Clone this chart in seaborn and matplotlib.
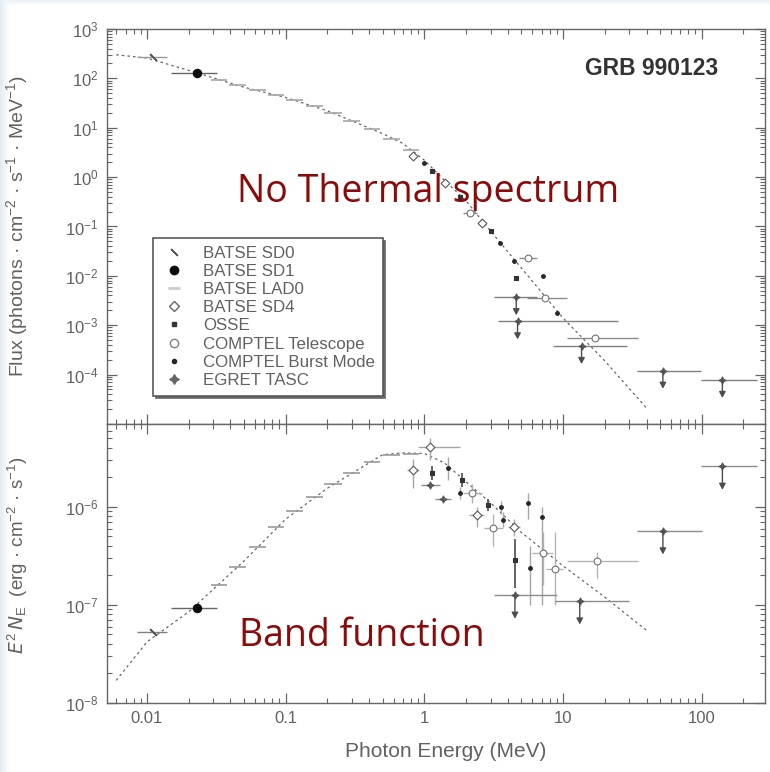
import numpy as np
import matplotlib
matplotlib.use("Agg")
import matplotlib.pyplot as plt
import seaborn as sns
from matplotlib.ticker import LogLocator, FixedLocator, NullFormatter
from matplotlib.lines import Line2D

# ---------------- data ----------------
model_E     = [0.006, 0.01, 0.02, 0.05, 0.1, 0.2, 0.5, 0.7, 1.0, 1.4, 2.0, 3.0, 5.0, 10.0, 20.0, 40.0]
model_flux  = [300, 257, 145, 66, 41, 22, 7.6, 4.8, 2.2, 0.85, 0.33, 0.081, 0.0145, 0.0014, 1.9e-4, 2.1e-5]
model_nuFnu = [1.7e-8, 4.2e-8, 8.5e-8, 2.8e-7, 7.5e-7, 1.55e-6, 3.4e-6, 3.55e-6, 3.5e-6, 2.8e-6, 1.8e-6,
               1.1e-6, 5.5e-7, 2.5e-7, 1.2e-7, 5.5e-8]

# BATSE SD0
sd0_E, sd0_Elo, sd0_Ehi = [0.011], [0.0085], [0.014]
sd0_flux, sd0_nuFnu = [270], [5.3e-8]
# BATSE SD1
sd1_E, sd1_Elo, sd1_Ehi = [0.023], [0.0150], [0.032]
sd1_flux, sd1_nuFnu = [126], [9.3e-8]
# BATSE LAD0
lad_E   = [0.033, 0.045, 0.062, 0.085, 0.115, 0.16, 0.22, 0.3, 0.42, 0.58, 0.8]
lad_Elo = [0.029, 0.039, 0.054, 0.074, 0.100, 0.139, 0.19, 0.26, 0.365, 0.50, 0.70]
lad_Ehi = [0.038, 0.052, 0.072, 0.098, 0.133, 0.185, 0.255, 0.345, 0.48, 0.67, 0.92]
lad_flux  = [93, 72, 57, 47, 37, 27.5, 20, 13.8, 9.3, 6.0, 3.6]
lad_nuFnu = [1.6e-7, 2.45e-7, 3.9e-7, 6.3e-7, 9.1e-7, 1.26e-6, 1.7e-6, 2.2e-6, 2.9e-6, 3.4e-6, 3.5e-6]
# BATSE SD4
sd4u_E, sd4u_flux = [0.83, 1.4, 2.6], [2.7, 0.77, 0.115]
sd4l_E     = [0.83, 1.1, 2.4, 4.4]
sd4l_Elo   = [0.75, 0.9, 2.1, 4.0]
sd4l_Ehi   = [0.92, 1.8, 2.7, 4.9]
sd4l_nuFnu = [2.35e-6, 4.1e-6, 8.3e-7, 6.3e-7]
sd4l_lo    = [1.55e-6, 3.0e-6, 6.2e-7, 5.0e-7]
sd4l_hi    = [3.1e-6, 5.0e-6, 1.0e-6, 7.5e-7]
# OSSE
osseu_E, osseu_flux = [1.13, 1.8, 3.0, 4.6], [1.35, 0.39, 0.082, 0.0091]
ossel_E     = [1.13, 1.88, 2.9, 4.5]
ossel_nuFnu = [2.2e-6, 1.9e-6, 1.05e-6, 2.9e-7]
ossel_lo    = [1.9e-6, 1.6e-6, 9.0e-7, 1.5e-7]
ossel_hi    = [2.6e-6, 2.2e-6, 1.2e-6, 4.7e-7]
# COMPTEL Telescope
ctelu_E    = [2.14, 5.6, 7.4, 17.0]
ctelu_Elo  = [1.9, 4.8, 5.5, 10.6]
ctelu_Ehi  = [2.4, 6.5, 10.6, 35.0]
ctelu_flux = [0.19, 0.023, 0.0035, 5.5e-4]
ctell_E     = [2.2, 3.15, 7.2, 8.7, 17.5]
ctell_Elo   = [1.9, 2.7, 6.0, 7.5, 10.6]
ctell_Ehi   = [2.6, 3.7, 8.5, 10.0, 34.8]
ctell_nuFnu = [1.4e-6, 6.1e-7, 3.4e-7, 2.3e-7, 2.8e-7]
ctell_lo    = [1.1e-6, 4.0e-7, 1.6e-7, 1.0e-7, 1.9e-7]
ctell_hi    = [1.7e-6, 8.5e-7, 5.5e-7, 5.5e-7, 3.5e-7]
# COMPTEL Burst Mode
cbmu_E, cbmu_flux = [1.0, 3.5, 4.4, 7.2, 9.0], [1.9, 0.047, 0.02, 0.01, 0.0018]
cbml_E     = [1.47, 1.8, 3.6, 3.7, 5.6, 7.1, 5.8]
cbml_nuFnu = [2.5e-6, 1.4e-6, 1.0e-6, 7.4e-7, 1.1e-6, 7.9e-7, 2.4e-7]
cbml_lo    = [1.9e-6, 1.2e-6, 8.5e-7, 6.2e-7, 7.5e-7, 1.0e-7, 1.0e-7]
cbml_hi    = [3.2e-6, 1.6e-6, 1.15e-6, 8.8e-7, 1.4e-6, 1.0e-6, 4.0e-7]
# EGRET TASC (upper limits)
tascu_E    = [4.6, 4.7, 13.6, 52.5, 141.0]
tascu_Elo  = [3.2, 3.4, 8.5, 34.0, 99.5]
tascu_Ehi  = [6.5, 25.0, 29.0, 99.0, 250.0]
tascu_flux = [0.0037, 0.0012, 3.8e-4, 1.2e-4, 7.8e-5]
tascl_E     = [1.1, 1.36, 4.5, 13.2, 52.5, 141.0]
tascl_Elo   = [0.95, 1.2, 3.2, 8.7, 34.0, 99.6]
tascl_Ehi   = [1.3, 1.55, 9.1, 30.0, 99.7, 250.0]
tascl_nuFnu = [1.67e-6, 1.2e-6, 1.26e-7, 1.1e-7, 5.7e-7, 2.6e-6]
tascl_ul    = [False, False, True, True, True, True]

legend_labels = ["BATSE SD0", "BATSE SD1", "BATSE LAD0", "BATSE SD4", "OSSE",
                 "COMPTEL Telescope", "COMPTEL Burst Mode", "EGRET TASC"]
x_ticks = [0.01, 0.1, 1, 10, 100]
x_tick_labels = ["0.01", "0.1", "1", "10", "100"]
upper_yticks = [1e-4, 1e-3, 1e-2, 1e-1, 1e0, 1e1, 1e2, 1e3]
lower_yticks = [1e-8, 1e-7, 1e-6]

# ---------------- style ----------------
sns.set_theme(style="ticks")
plt.rcParams['font.family'] = ['Liberation Sans', 'DejaVu Sans']
plt.rcParams['mathtext.default'] = 'regular'

GRAY = '0.4'
TXT = '0.38'
fig = plt.figure(figsize=(7.7, 7.72), dpi=100)
fig.patch.set_facecolor('white')

# faint bluish edge strips of the scan
bg = fig.add_axes([0, 0, 1, 1], zorder=-10)
H, W = 772, 770
img = np.ones((H, W, 3))
xs = np.arange(W)[None, :]
ys = np.arange(H)[:, None]
a = np.clip(1 - xs / 9.0, 0, 1) * 0.9
b = np.clip(1 - ys / 5.0, 0, 1) * 0.6
alpha = np.maximum(a, b)
edge_col = np.array([0.88, 0.92, 0.95])
img = img * (1 - alpha[..., None]) + edge_col * alpha[..., None]
bg.imshow(img, aspect='auto', extent=[0, 1, 0, 1])
bg.axis('off')

ax1 = fig.add_axes([0.139, 0.4508, 0.8545, 0.5117])
ax2 = fig.add_axes([0.139, 0.0894, 0.8545, 0.3614], sharex=ax1)

for ax in (ax1, ax2):
    ax.set_xscale('log')
    ax.set_yscale('log')


def xerr_of(E, lo, hi):
    return [[e - l for e, l in zip(E, lo)], [h - e for e, h in zip(E, hi)]]


def yerr_of(V, lo, hi):
    return [[v - l for v, l in zip(V, lo)], [h - v for v, h in zip(V, hi)]]


def bars(ax, E, V, xerr=None, yerr=None, color='0.45', lw=1.0):
    ax.errorbar(E, V, xerr=xerr, yerr=yerr, fmt='none', ecolor=color,
                elinewidth=lw, capsize=0, zorder=2)


def marks(ax, E, V, marker, s, face, edge, lw=0.8):
    sns.scatterplot(x=E, y=V, ax=ax, marker=marker, s=s, color=face,
                    edgecolor=edge, linewidth=lw, zorder=3, legend=False)


def arrows(ax, E, V, length):
    for e, v in zip(E, V):
        ax.annotate('', xy=(e, v), xytext=(0, -length), textcoords='offset points',
                    arrowprops=dict(arrowstyle='<|-,head_width=0.16,head_length=0.3',
                                    color='0.3', lw=1.0, shrinkA=0, shrinkB=0),
                    zorder=3)


# model curves (dotted)
sns.lineplot(x=model_E, y=model_flux, ax=ax1, color='0.4', lw=0.9,
             linestyle=(0, (2, 2.5)), zorder=1, legend=False)
sns.lineplot(x=model_E, y=model_nuFnu, ax=ax2, color='0.4', lw=0.9,
             linestyle=(0, (2, 2.5)), zorder=1, legend=False)

sd0_marker = (2, 2, 45)
tasc_marker = (4, 1, 0)

# ---- upper panel ----
bars(ax1, sd0_E, sd0_flux, xerr=xerr_of(sd0_E, sd0_Elo, sd0_Ehi), color='0.6')
marks(ax1, sd0_E, sd0_flux, sd0_marker, 40, '0.35', '0.35', 1.0)
bars(ax1, sd1_E, sd1_flux, xerr=xerr_of(sd1_E, sd1_Elo, sd1_Ehi), color='0.4')
marks(ax1, sd1_E, sd1_flux, 'o', 36, '0.05', '0.05')
bars(ax1, lad_E, lad_flux, xerr=xerr_of(lad_E, lad_Elo, lad_Ehi), color='0.65', lw=1.2)
marks(ax1, sd4u_E, sd4u_flux, 'D', 20, 'white', '0.35')
marks(ax1, osseu_E, osseu_flux, 's', 12, '0.2', '0.2')
bars(ax1, ctelu_E, ctelu_flux, xerr=xerr_of(ctelu_E, ctelu_Elo, ctelu_Ehi), color='0.55')
marks(ax1, ctelu_E, ctelu_flux, 'o', 24, 'white', '0.45')
marks(ax1, cbmu_E, cbmu_flux, 'o', 7, '0.15', '0.15')
bars(ax1, tascu_E, tascu_flux, xerr=xerr_of(tascu_E, tascu_Elo, tascu_Ehi), color='0.5')
marks(ax1, tascu_E, tascu_flux, tasc_marker, 26, '0.35', '0.35')
arrows(ax1, tascu_E, tascu_flux, 13)

# ---- lower panel ----
bars(ax2, sd0_E, sd0_nuFnu, xerr=xerr_of(sd0_E, sd0_Elo, sd0_Ehi), color='0.5')
marks(ax2, sd0_E, sd0_nuFnu, sd0_marker, 40, '0.35', '0.35', 1.0)
bars(ax2, sd1_E, sd1_nuFnu, xerr=xerr_of(sd1_E, sd1_Elo, sd1_Ehi), color='0.4')
marks(ax2, sd1_E, sd1_nuFnu, 'o', 36, '0.05', '0.05')
bars(ax2, lad_E, lad_nuFnu, xerr=xerr_of(lad_E, lad_Elo, lad_Ehi), color='0.6', lw=1.2)
bars(ax2, sd4l_E, sd4l_nuFnu, xerr=xerr_of(sd4l_E, sd4l_Elo, sd4l_Ehi),
     yerr=yerr_of(sd4l_nuFnu, sd4l_lo, sd4l_hi), color='0.65')
marks(ax2, sd4l_E, sd4l_nuFnu, 'D', 20, 'white', '0.35')
bars(ax2, ossel_E, ossel_nuFnu, yerr=yerr_of(ossel_nuFnu, ossel_lo, ossel_hi), color='0.35', lw=1.3)
marks(ax2, ossel_E, ossel_nuFnu, 's', 12, '0.2', '0.2')
bars(ax2, ctell_E, ctell_nuFnu, xerr=xerr_of(ctell_E, ctell_Elo, ctell_Ehi),
     yerr=yerr_of(ctell_nuFnu, ctell_lo, ctell_hi), color='0.7')
marks(ax2, ctell_E, ctell_nuFnu, 'o', 24, 'white', '0.45')
bars(ax2, cbml_E, cbml_nuFnu, yerr=yerr_of(cbml_nuFnu, cbml_lo, cbml_hi), color='0.65')
marks(ax2, cbml_E, cbml_nuFnu, 'o', 7, '0.15', '0.15')
bars(ax2, tascl_E, tascl_nuFnu, xerr=xerr_of(tascl_E, tascl_Elo, tascl_Ehi), color='0.55')
marks(ax2, tascl_E, tascl_nuFnu, tasc_marker, 26, '0.35', '0.35')
arrows(ax2, [e for e, u in zip(tascl_E, tascl_ul) if u],
       [v for v, u in zip(tascl_nuFnu, tascl_ul) if u], 17)

# ---- axes formatting ----
ax1.set_xlim(0.00515, 286)
ax1.set_ylim(1e-5, 1e3)
ax2.set_ylim(1e-8, 7e-6)

for ax in (ax1, ax2):
    ax.xaxis.set_major_locator(FixedLocator(x_ticks))
    ax.xaxis.set_minor_locator(LogLocator(base=10, subs=np.arange(2, 10), numticks=20))
    ax.yaxis.set_minor_locator(LogLocator(base=10, subs=np.arange(2, 10), numticks=20))
    ax.yaxis.set_minor_formatter(NullFormatter())
    ax.xaxis.set_minor_formatter(NullFormatter())
    ax.tick_params(which='both', direction='in', top=True, right=True,
                   color=GRAY, labelcolor=TXT, labelsize=12)
    ax.tick_params(which='major', length=7, width=0.9, pad=6)
    ax.tick_params(which='minor', length=3.5, width=0.8)
    for sp in ax.spines.values():
        sp.set_color(GRAY)
        sp.set_linewidth(1.0)

ax1.yaxis.set_major_locator(FixedLocator(upper_yticks))
ax2.yaxis.set_major_locator(FixedLocator(lower_yticks))
ax1.tick_params(axis='x', labelbottom=False)
ax2.set_xticks(x_ticks)
ax2.set_xticklabels(x_tick_labels)

ax1.set_ylabel('Flux (photons · cm$^{-2}$ · s$^{-1}$ · MeV$^{-1}$)', fontsize=14, color=TXT)
ax2.set_ylabel('$\\mathit{E}^{2}\\,\\mathit{N}_{E}$  (erg · cm$^{-2}$ · s$^{-1}$)', fontsize=13.5, color=TXT)
ax2.set_xlabel('Photon Energy (MeV)', fontsize=15, color=TXT)
ax1.yaxis.set_label_coords(-0.117, 0.5)
ax2.yaxis.set_label_coords(-0.117, 0.53)
ax2.xaxis.set_label_coords(0.515, -0.14)

ax1.text(0.828, 0.901, 'GRB 990123', transform=ax1.transAxes, ha='center', va='center',
         fontsize=16.5, fontweight='bold', color='0.2')

# red annotations
ax1.text(0.488, 0.587, 'No Thermal spectrum', transform=ax1.transAxes, ha='center',
         va='center', fontsize=27, color='#8b0a0a', family=['Open Sans', 'DejaVu Sans'], zorder=10)
ax2.text(0.3875, 0.24, 'Band function', transform=ax2.transAxes, ha='center',
         va='center', fontsize=27, color='#8b0a0a', family=['Open Sans', 'DejaVu Sans'], zorder=10)

# legend
handles = [
    Line2D([], [], ls='none', marker=sd0_marker, ms=7, color='0.35', mew=1.0),
    Line2D([], [], ls='none', marker='o', ms=6, color='0.05'),
    Line2D([], [], ls='none', marker='_', ms=8, color='0.8', mew=2),
    Line2D([], [], ls='none', marker='D', ms=5, mfc='white', mec='0.4'),
    Line2D([], [], ls='none', marker='s', ms=3.5, color='0.2'),
    Line2D([], [], ls='none', marker='o', ms=6, mfc='white', mec='0.5'),
    Line2D([], [], ls='none', marker='o', ms=3, color='0.15'),
    Line2D([], [], ls='none', marker=tasc_marker, ms=7, color='0.4'),
]
leg = ax1.legend(handles, legend_labels, loc='upper left', bbox_to_anchor=(0.07, 0.471),
                 borderaxespad=0, frameon=True, fancybox=False, framealpha=1,
                 edgecolor='0.35', fontsize=12.2, labelspacing=0.19, handlelength=1.6,
                 handletextpad=0.9, borderpad=0.45, labelcolor=TXT,
                 shadow={'ox': 2, 'oy': -2, 'color': '0.4', 'alpha': 1})
leg.get_frame().set_linewidth(1.2)

fig.savefig('out.png', dpi=100, facecolor='white')
